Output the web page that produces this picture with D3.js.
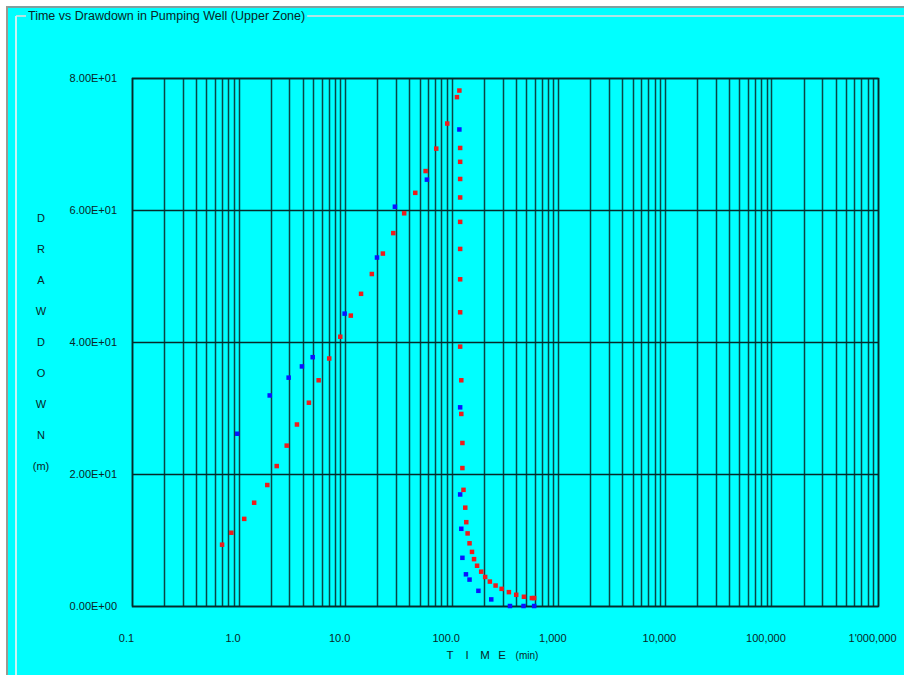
<!DOCTYPE html>
<html>
<head>
<meta charset="utf-8">
<script src="https://cdn.jsdelivr.net/npm/d3@7"></script>
<style>
  html, body { margin: 0; padding: 0; background: #00ffff; }
  svg { display: block; }
  text { font-family: "Liberation Sans", Arial, sans-serif; fill: #0a2626; }
</style>
</head>
<body>
<svg id="chart" width="904" height="675"></svg>
<script>
// ---- Data ----
const title = "Time vs Drawdown in Pumping Well (Upper Zone)";
const yLetters = ["D", "R", "A", "W", "D", "O", "W", "N", "(m)"];
const xTitleParts = ["T", "I", "M", "E", "(min)"];

const xTickValues = [0.1, 1, 10, 100, 1000, 10000, 100000, 1000000];
const xTickLabels = ["0.1", "1.0", "10.0", "100.0", "1,000", "10,000", "100,000", "1'000,000"];
const yTickValues = [0, 20, 40, 60, 80];
const yTickLabels = ["0.00E+00", "2.00E+01", "4.00E+01", "6.00E+01", "8.00E+01"];

// Red series: time (min) and drawdown (m)
const redTime = [0.70, 0.855, 1.13, 1.40, 1.86, 2.28, 2.83, 3.53, 4.57, 5.64, 7.09, 9.0,
  11.3, 14.1, 17.8, 22.6, 28.3, 35.8, 45.5, 56.9, 71.6, 90.8, 112, 118,
  120, 120, 120, 120, 120, 120, 120, 120, 120, 123, 123, 126, 126, 129, 134, 137,
  141, 147, 155, 162, 173, 189, 206, 228, 258, 294, 344, 403, 476, 565, 594];
const redDrawdown = [9.29, 11.1, 13.2, 15.65, 18.33, 21.2, 24.3, 27.5, 30.8, 34.2, 37.5, 40.8,
  44.0, 47.3, 50.3, 53.4, 56.5, 59.5, 62.6, 65.9, 69.3, 73.1, 77.1, 78.1,
  69.4, 67.3, 64.7, 61.9, 58.2, 54.1, 49.5, 44.5, 39.3, 34.2, 29.1, 24.7, 20.9, 17.6, 14.9, 12.7,
  11.0, 9.5, 8.2, 7.1, 6.1, 5.2, 4.4, 3.7, 3.1, 2.6, 2.1, 1.7, 1.4, 1.2, 1.2];

// Blue series: time (min) and drawdown (m)
const blueTime = [0.972, 1.96, 2.95, 3.93, 4.96, 9.89, 19.9, 29.3, 58.5, 118,
  120, 120, 123, 126, 136, 147, 178, 235, 352, 472, 594];
const blueDrawdown = [26.1, 31.9, 34.6, 36.3, 37.7, 44.3, 52.8, 60.5, 64.6, 72.2,
  30.1, 16.9, 11.7, 7.3, 4.8, 4.0, 2.3, 1.0, 0, 0, 0];

// ---- Layout ----
const W = 904, H = 675;
const plot = { left: 132, right: 878, top: 78, bottom: 606 };

const svg = d3.select("#chart");

// background pieces
svg.append("rect").attr("x", 0).attr("y", 0).attr("width", W).attr("height", H).attr("fill", "#00ffff");
svg.append("rect").attr("x", 0).attr("y", 0).attr("width", W).attr("height", 6).attr("fill", "#ffffff");
svg.append("rect").attr("x", 0).attr("y", 0).attr("width", 6).attr("height", H).attr("fill", "#ffffff");
// outer gray frame lines
svg.append("line").attr("x1", 6).attr("x2", W).attr("y1", 7).attr("y2", 7)
  .attr("stroke", "#7f9f9f").attr("stroke-width", 2);
svg.append("line").attr("x1", 7).attr("x2", 7).attr("y1", 6).attr("y2", H)
  .attr("stroke", "#9a9a90").attr("stroke-width", 2);
// group box (etched) lines
svg.append("line").attr("x1", 16).attr("x2", W).attr("y1", 16).attr("y2", 16)
  .attr("stroke", "#b0e4e4").attr("stroke-width", 2);
svg.append("line").attr("x1", 16).attr("x2", 16).attr("y1", 16).attr("y2", H)
  .attr("stroke", "#c8f4f4").attr("stroke-width", 2);

// title with cyan backing to interrupt group box line
const titleText = svg.append("text").attr("x", 28).attr("y", 20)
  .attr("font-size", 12.5).text(title);
const tb = titleText.node().getBBox();
svg.insert("rect", "text").attr("x", tb.x - 2).attr("y", tb.y).attr("width", tb.width + 4)
  .attr("height", tb.height).attr("fill", "#00ffff");

// scales
const x = d3.scaleLog().domain([0.1, 1e6]).range([plot.left, plot.right]);
const y = d3.scaleLinear().domain([0, 80]).range([plot.bottom, plot.top]);

const gridColor = "#0b3b3b";
// vertical grid: every 1..9 multiple in each decade
const vLines = [];
for (let e = -1; e < 6; e++) {
  for (let m = 1; m <= 9; m++) vLines.push(m * Math.pow(10, e));
}
vLines.push(1e6);
svg.append("g").selectAll("line").data(vLines).join("line")
  .attr("x1", d => Math.round(x(d)) + 0.5).attr("x2", d => Math.round(x(d)) + 0.5)
  .attr("y1", plot.top).attr("y2", plot.bottom)
  .attr("stroke", gridColor).attr("stroke-width", 1.5).attr("stroke-opacity", 0.95);

// horizontal grid
svg.append("g").selectAll("line").data(yTickValues).join("line")
  .attr("x1", plot.left).attr("x2", plot.right)
  .attr("y1", d => Math.round(y(d)) + 0.5).attr("y2", d => Math.round(y(d)) + 0.5)
  .attr("stroke", "#062a2a").attr("stroke-width", 1.6);

// plot border
svg.append("rect").attr("x", plot.left + 0.5).attr("y", plot.top + 0.5)
  .attr("width", plot.right - plot.left).attr("height", plot.bottom - plot.top)
  .attr("fill", "none").attr("stroke", "#062a2a").attr("stroke-width", 1.6);

// axes (labels only)
const xAxis = d3.axisBottom(x).tickValues(xTickValues)
  .tickFormat((d, i) => xTickLabels[i]).tickSize(0).tickPadding(0);
const gx = svg.append("g").attr("transform", `translate(-6, ${plot.bottom + 28})`).call(xAxis);
gx.select(".domain").remove();
gx.selectAll("text").attr("font-size", 11).attr("fill", "#0a2626").attr("font-family", "Liberation Sans, Arial, sans-serif");

const yAxis = d3.axisLeft(y).tickValues(yTickValues)
  .tickFormat((d, i) => yTickLabels[i]).tickSize(0).tickPadding(0);
const gy = svg.append("g").attr("transform", `translate(117, 0)`).call(yAxis);
gy.select(".domain").remove();
gy.selectAll("text").attr("font-size", 11).attr("fill", "#0a2626").attr("font-family", "Liberation Sans, Arial, sans-serif");

// y title: stacked letters
svg.append("g").selectAll("text").data(yLetters).join("text")
  .attr("x", 41).attr("y", (d, i) => 222 + i * 31)
  .attr("text-anchor", "middle").attr("font-size", 11).text(d => d);

// x title
const xTitleX = [450, 467, 485, 502, 527];
svg.append("g").selectAll("text").data(xTitleParts).join("text")
  .attr("x", (d, i) => xTitleX[i]).attr("y", 659)
  .attr("text-anchor", "middle").attr("font-size", d => d === "(min)" ? 10 : 11.5).text(d => d);

// markers
const blue = blueTime.map((t, i) => ({ t, s: blueDrawdown[i] }));
const red = redTime.map((t, i) => ({ t, s: redDrawdown[i] }));
svg.append("g").selectAll("rect").data(blue).join("rect")
  .attr("x", d => x(d.t) - 2.25).attr("y", d => y(d.s) - 2.25)
  .attr("width", 4.5).attr("height", 4.5).attr("fill", "#0a14ff");
svg.append("g").selectAll("rect").data(red).join("rect")
  .attr("x", d => x(d.t) - 2.25).attr("y", d => y(d.s) - 2.25)
  .attr("width", 4.5).attr("height", 4.5).attr("fill", "#ee1c1c");
</script>
</body>
</html>
